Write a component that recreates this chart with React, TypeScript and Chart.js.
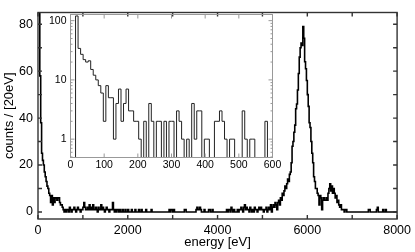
import React, { useEffect, useRef } from "react";
import { Chart, registerables } from "chart.js";

Chart.register(...registerables);

// ---------- data ----------
// Main spectrum: counts per 20 eV bin, bins starting at 0 eV
const MAIN_BIN_START_EV = 0;
const MAIN_BIN_WIDTH_EV = 20;
const MAIN_COUNTS = [
  200, 110, 58, 38, 25, 22, 20, 17, 15, 13,
  11, 10, 8, 7, 4, 7, 3, 6, 4, 6,
  6, 5, 6, 6, 4, 3, 3, 2, 1, 0,
  1, 0, 1, 1, 0, 2, 1, 0, 1, 1,
  2, 1, 0, 1, 2, 1, 1, 0, 1, 1,
  2, 4, 2, 1, 1, 2, 1, 3, 1, 2,
  1, 3, 1, 1, 2, 1, 0, 2, 1, 1,
  3, 1, 2, 1, 0, 1, 2, 1, 1, 0,
  1, 1, 1, 4, 1, 0, 1, 0, 1, 1,
  0, 1, 0, 0, 1, 0, 0, 1, 0, 0,
  1, 0, 0, 0, 1, 0, 0, 0, 1, 0,
  0, 0, 1, 0, 0, 1, 0, 0, 0, 0,
  1, 0, 0, 0, 0, 0, 1, 0, 0, 0,
  0, 0, 0, 0, 0, 0, 0, 0, 0, 0,
  0, 0, 0, 0, 0, 0, 1, 0, 1, 1,
  0, 1, 0, 0, 0, 0, 0, 0, 0, 0,
  0, 0, 0, 1, 1, 0, 0, 0, 0, 0,
  0, 0, 0, 0, 0, 0, 1, 2, 1, 1,
  2, 1, 0, 0, 0, 1, 0, 0, 0, 0,
  1, 1, 0, 0, 1, 0, 0, 0, 0, 0,
  0, 0, 0, 0, 0, 0, 0, 0, 0, 0,
  1, 0, 1, 1, 0, 2, 1, 0, 1, 0,
  0, 0, 1, 0, 1, 1, 2, 1, 0, 2,
  3, 1, 2, 1, 1, 0, 2, 1, 0, 1,
  0, 2, 1, 1, 0, 1, 2, 1, 2, 1,
  1, 0, 1, 1, 2, 0, 1, 2, 1, 3,
  0, 2, 3, 2, 4, 3, 1, 4, 5, 3,
  6, 5, 8, 7, 9, 11, 10, 12, 14, 13,
  16, 17, 21, 28, 30, 34, 37, 44, 46, 52,
  59, 66, 70, 72, 71, 79, 74, 64, 61, 56,
  50, 45, 38, 36, 30, 25, 21, 15, 13, 10,
  10, 8, 7, 3, 7, 6, 1, 5, 6, 5,
  5, 6, 5, 8, 10, 12, 9, 11, 8, 10,
  8, 6, 7, 4, 5, 3, 2, 3, 1, 1,
  1, 0, 1, 1, 0, 0, 0, 0, 0, 0,
  0, 0, 0, 0, 0, 0, 0, 0, 0, 0,
  0, 0, 0, 0, 0, 0, 0, 0, 1, 1,
  0, 0, 0, 0, 0, 0, 0, 1, 2, 0,
  0, 0, 0, 0, 1, 0, 0, 1, 0, 0,
  0, 0, 0, 0, 0, 0, 0, 0, 0, 0,
];

// Inset: low-energy part, counts per bin on a log axis
const INSET_BIN_START_EV = 15;
const INSET_BIN_WIDTH_EV = 7.5;
const INSET_COUNTS = [
  120, 34, 27, 22, 20, 21, 15, 12, 10, 8,
  6, 2, 8, 5, 5, 1, 4, 7, 2, 4,
  7, 3, 3, 2, 2, 1, 0, 2, 0, 4,
  2, 0, 2, 2, 0, 2, 0, 2, 2, 0,
  3, 2, 1, 0, 1, 0, 4, 1, 3, 3,
  0, 1, 1, 0, 0, 2, 2, 3, 2, 1,
  0, 1, 1, 0, 0, 0, 3, 1, 0, 1,
  1, 0, 0, 0, 0, 2, 0, 0,
];

// tick values / labels
const MAIN_X_LABELS = [0, 2000, 4000, 6000, 8000];
const MAIN_X_TICKS = [0, 1000, 2000, 3000, 4000, 5000, 6000, 7000, 8000];
const MAIN_Y_LABELS = [0, 20, 40, 60, 80];
const MAIN_Y_TICKS = [0, 10, 20, 30, 40, 50, 60, 70, 80];
const INSET_X_LABELS = [0, 100, 200, 300, 400, 500, 600];
const INSET_Y_LABELS = [1, 10, 100];
const INSET_Y_MINOR = [0.5, 0.6, 0.7, 0.8, 0.9, 2, 3, 4, 5, 6, 7, 8, 9, 20, 30, 40, 50, 60, 70, 80, 90];

const FONT = "'Liberation Sans', Arial, Helvetica, sans-serif";

function stepPoints(start: number, width: number, counts: number[], floor?: number) {
  const v = (c: number) => (floor !== undefined && c <= 0 ? floor : c);
  const pts = counts.map((c, i) => ({ x: start + i * width, y: v(c) }));
  pts.push({ x: start + counts.length * width, y: v(counts[counts.length - 1]) });
  return pts;
}

function framePlugin(cfg: {
  xTicks: number[];
  yTicks: number[];
  yMinor?: number[];
  len: number;
  minorLen: number;
  color: string;
  width: number;
}) {
  return {
    id: "frameTicks",
    afterDatasetsDraw(chart: any) {
      const { ctx, chartArea: a, scales } = chart;
      const xs = scales.x;
      const ys = scales.y;
      ctx.save();
      ctx.strokeStyle = cfg.color;
      ctx.lineWidth = cfg.width;
      ctx.beginPath();
      for (const v of cfg.xTicks) {
        const px = xs.getPixelForValue(v);
        ctx.moveTo(px, a.bottom);
        ctx.lineTo(px, a.bottom - cfg.len);
        ctx.moveTo(px, a.top);
        ctx.lineTo(px, a.top + cfg.len);
      }
      for (const v of cfg.yTicks) {
        const py = ys.getPixelForValue(v);
        ctx.moveTo(a.left, py);
        ctx.lineTo(a.left + cfg.len, py);
        ctx.moveTo(a.right, py);
        ctx.lineTo(a.right - cfg.len, py);
      }
      for (const v of cfg.yMinor || []) {
        const py = ys.getPixelForValue(v);
        if (py < a.top || py > a.bottom) continue;
        ctx.moveTo(a.left, py);
        ctx.lineTo(a.left + cfg.minorLen, py);
        ctx.moveTo(a.right, py);
        ctx.lineTo(a.right - cfg.minorLen, py);
      }
      ctx.stroke();
      ctx.strokeRect(a.left, a.top, a.right - a.left, a.bottom - a.top);
      ctx.restore();
    },
  };
}

const plain = (v: any) => String(v);

export default function App() {
  const mainRef = useRef<HTMLCanvasElement>(null);
  const insetRef = useRef<HTMLCanvasElement>(null);

  useEffect(() => {
    if (!mainRef.current || !insetRef.current) return;

    const main = new Chart(mainRef.current, {
      type: "line",
      data: {
        datasets: [
          {
            data: stepPoints(MAIN_BIN_START_EV, MAIN_BIN_WIDTH_EV, MAIN_COUNTS),
            stepped: true,
            borderColor: "#000",
            borderWidth: 1.6,
            pointRadius: 0,
            fill: false,
          },
        ],
      },
      options: {
        animation: false,
        responsive: false,
        events: [],
        layout: { padding: { left: 0, top: 3, right: 17, bottom: 0 } },
        plugins: { legend: { display: false }, tooltip: { enabled: false } },
        scales: {
          x: {
            type: "linear",
            min: 0,
            max: 8000,
            afterBuildTicks: (s: any) => {
              s.ticks = MAIN_X_LABELS.map((v) => ({ value: v }));
            },
            afterFit: (s: any) => {
              s.height = 33;
            },
            grid: { display: false, drawTicks: false },
            border: { display: false },
            ticks: {
              padding: 4,
              color: "#000",
              autoSkip: false,
              maxRotation: 0,
              font: { family: FONT, size: 12.5 },
              callback: plain,
            },
            title: {
              display: true,
              text: "energy [eV]",
              color: "#000",
              font: { family: FONT, size: 13 },
              padding: { top: 0, bottom: 2 },
            },
          },
          y: {
            type: "linear",
            min: -3,
            max: 85,
            afterBuildTicks: (s: any) => {
              s.ticks = MAIN_Y_LABELS.map((v) => ({ value: v }));
            },
            afterFit: (s: any) => {
              s.width = 38;
            },
            grid: { display: false, drawTicks: false },
            border: { display: false },
            ticks: {
              padding: 5,
              color: "#000",
              autoSkip: false,
              font: { family: FONT, size: 12.5 },
              callback: plain,
            },
            title: {
              display: true,
              text: "counts / [20eV]",
              color: "#000",
              font: { family: FONT, size: 13 },
              padding: { top: 2, bottom: 0 },
            },
          },
        },
      },
      plugins: [
        framePlugin({
          xTicks: MAIN_X_TICKS,
          yTicks: MAIN_Y_TICKS,
          len: 4,
          minorLen: 2,
          color: "#333",
          width: 1.4,
        }),
      ],
    } as any);

    const inset = new Chart(insetRef.current, {
      type: "line",
      data: {
        datasets: [
          {
            data: [
              { x: INSET_BIN_START_EV, y: 0.1 },
              ...stepPoints(INSET_BIN_START_EV, INSET_BIN_WIDTH_EV, INSET_COUNTS, 0.1),
            ],
            stepped: true,
            borderColor: "#222",
            borderWidth: 1,
            pointRadius: 0,
            fill: false,
          },
        ],
      },
      options: {
        animation: false,
        responsive: false,
        events: [],
        layout: { padding: { left: 0, top: 14.5, right: 17.5, bottom: 0 } },
        plugins: { legend: { display: false }, tooltip: { enabled: false } },
        scales: {
          x: {
            type: "linear",
            min: 0,
            max: 600,
            afterBuildTicks: (s: any) => {
              s.ticks = INSET_X_LABELS.map((v) => ({ value: v }));
            },
            afterFit: (s: any) => {
              s.height = 17.5;
            },
            grid: { display: false, drawTicks: false },
            border: { display: false },
            ticks: {
              padding: 1,
              color: "#000",
              autoSkip: false,
              maxRotation: 0,
              font: { family: FONT, size: 10.5 },
              callback: plain,
            },
          },
          y: {
            type: "logarithmic",
            min: 0.49,
            max: 127,
            afterBuildTicks: (s: any) => {
              s.ticks = INSET_Y_LABELS.map((v) => ({ value: v }));
            },
            afterFit: (s: any) => {
              s.width = 30.5;
            },
            grid: { display: false, drawTicks: false },
            border: { display: false },
            ticks: {
              padding: 4,
              color: "#000",
              autoSkip: false,
              font: { family: FONT, size: 10.5 },
              callback: plain,
            },
          },
        },
      },
      plugins: [
        framePlugin({
          xTicks: INSET_X_LABELS,
          yTicks: INSET_Y_LABELS,
          yMinor: INSET_Y_MINOR,
          len: 4,
          minorLen: 2,
          color: "#999",
          width: 1,
        }),
      ],
    } as any);

    return () => {
      main.destroy();
      inset.destroy();
    };
  }, []);

  return (
    <div style={{ position: "fixed", left: 0, top: 0, width: 415, height: 252, background: "#fff" }}>
      <canvas
        ref={mainRef}
        width={415}
        height={252}
        style={{ position: "absolute", left: 0, top: 0, width: 415, height: 252 }}
      />
      <canvas
        ref={insetRef}
        width={250}
        height={175}
        style={{ position: "absolute", left: 40, top: 0, width: 250, height: 175 }}
      />
    </div>
  );
}
